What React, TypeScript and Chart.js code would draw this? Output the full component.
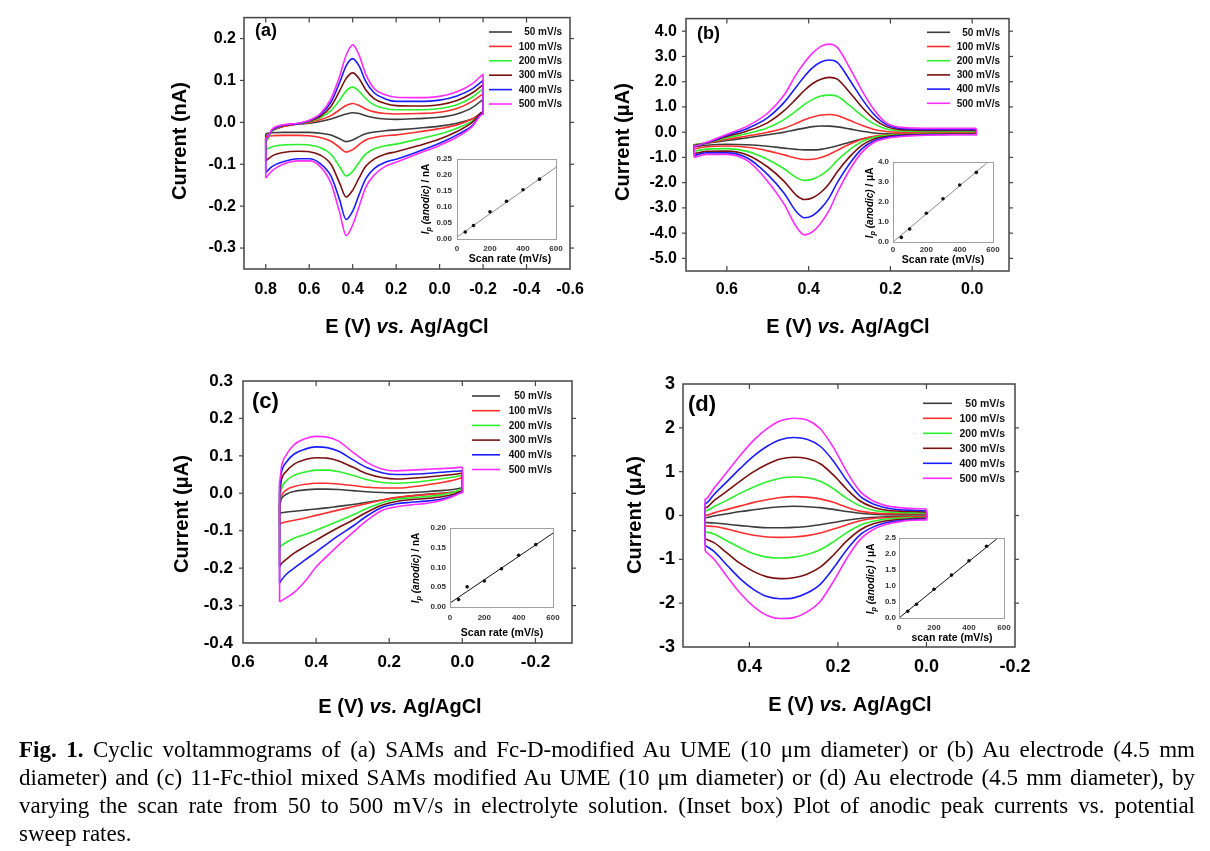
import React, { useEffect, useRef } from 'react';
import { Chart, registerables } from 'chart.js';

Chart.register(...registerables);

const SANS = "'Liberation Sans', Arial, Helvetica, sans-serif";
const SERIF = "'Liberation Serif', 'Times New Roman', Times, serif";

// ---------------- shared ----------------
const scanLabels = ['50 mV/s', '100 mV/s', '200 mV/s', '300 mV/s', '400 mV/s', '500 mV/s'];
const scanColors = ['#3c3c3c', '#ff2e2e', '#2cf02c', '#7a1010', '#1c1cff', '#ff2cff'];
const scanRates = [50, 100, 200, 300, 400, 500];

// ---------------- panel (a) ----------------
const potentialA = [0.8, 0.77, 0.72, 0.65, 0.6, 0.55, 0.5, 0.46, 0.43, 0.4, 0.37, 0.34, 0.3, 0.25, 0.2, 0.1, 0.0, -0.08, -0.15, -0.2];
const anodicA = [
  [-0.035, -0.02, -0.01, -0.004, -0.002, 0.002, 0.008, 0.015, 0.02, 0.023, 0.021, 0.016, 0.011, 0.008, 0.007, 0.009, 0.012, 0.02, 0.035, 0.055],
  [-0.038, -0.02, -0.01, -0.004, 0.0, 0.006, 0.016, 0.03, 0.04, 0.045, 0.04, 0.032, 0.025, 0.021, 0.02, 0.021, 0.024, 0.033, 0.05, 0.068],
  [-0.045, -0.02, -0.008, -0.003, 0.002, 0.011, 0.028, 0.053, 0.075, 0.084, 0.074, 0.057, 0.041, 0.033, 0.03, 0.03, 0.033, 0.042, 0.06, 0.08],
  [-0.04, -0.018, -0.008, -0.003, 0.003, 0.014, 0.038, 0.075, 0.105, 0.118, 0.104, 0.078, 0.056, 0.045, 0.04, 0.039, 0.042, 0.052, 0.07, 0.09],
  [-0.04, -0.018, -0.007, -0.003, 0.004, 0.018, 0.048, 0.095, 0.135, 0.152, 0.134, 0.098, 0.07, 0.056, 0.05, 0.05, 0.053, 0.063, 0.08, 0.1],
  [-0.04, -0.016, -0.006, -0.002, 0.005, 0.02, 0.056, 0.11, 0.16, 0.185, 0.16, 0.115, 0.08, 0.066, 0.06, 0.059, 0.062, 0.073, 0.092, 0.115],
];
const cathodicA = [
  [-0.027, -0.025, -0.024, -0.024, -0.024, -0.026, -0.03, -0.039, -0.046, -0.042, -0.034, -0.027, -0.023, -0.02, -0.018, -0.014, -0.009, -0.002, 0.008, 0.02],
  [-0.035, -0.032, -0.031, -0.031, -0.032, -0.036, -0.045, -0.06, -0.071, -0.065, -0.053, -0.042, -0.036, -0.032, -0.03, -0.023, -0.015, -0.006, 0.008, 0.022],
  [-0.065, -0.058, -0.054, -0.053, -0.054, -0.06, -0.076, -0.106, -0.128, -0.117, -0.095, -0.076, -0.063, -0.056, -0.052, -0.04, -0.028, -0.014, 0.003, 0.022],
  [-0.092, -0.08, -0.072, -0.069, -0.07, -0.078, -0.1, -0.145, -0.178, -0.162, -0.132, -0.105, -0.087, -0.076, -0.07, -0.056, -0.04, -0.022, 0.0, 0.025],
  [-0.12, -0.105, -0.094, -0.087, -0.087, -0.098, -0.128, -0.185, -0.232, -0.212, -0.172, -0.135, -0.11, -0.095, -0.088, -0.07, -0.05, -0.03, -0.008, 0.022],
  [-0.133, -0.115, -0.1, -0.092, -0.092, -0.105, -0.145, -0.215, -0.27, -0.245, -0.2, -0.155, -0.125, -0.105, -0.095, -0.075, -0.055, -0.035, -0.01, 0.02],
];
const xTicksA = [0.8, 0.6, 0.4, 0.2, 0.0, -0.2, -0.4, -0.6];
const yTicksA = [0.2, 0.1, 0.0, -0.1, -0.2, -0.3];

// ---------------- panel (b) ----------------
const potentialB = [0.68, 0.65, 0.6, 0.55, 0.5, 0.46, 0.43, 0.41, 0.39, 0.37, 0.35, 0.33, 0.3, 0.27, 0.24, 0.21, 0.18, 0.14, 0.1, 0.05, -0.01];
const anodicB = [
  [-0.5, -0.44, -0.33, -0.22, -0.1, 0.0, 0.1, 0.16, 0.22, 0.245, 0.24, 0.21, 0.13, 0.04, -0.03, -0.06, -0.07, -0.07, -0.07, -0.07, -0.07],
  [-0.5, -0.43, -0.28, -0.15, 0.0, 0.16, 0.35, 0.49, 0.6, 0.68, 0.7, 0.66, 0.47, 0.27, 0.11, 0.03, 0.0, -0.01, -0.01, -0.01, -0.01],
  [-0.5, -0.42, -0.22, -0.05, 0.18, 0.5, 0.85, 1.1, 1.3, 1.43, 1.47, 1.42, 1.06, 0.66, 0.33, 0.13, 0.06, 0.04, 0.03, 0.03, 0.03],
  [-0.52, -0.42, -0.17, 0.05, 0.38, 0.85, 1.33, 1.66, 1.93, 2.1, 2.17, 2.1, 1.58, 1.0, 0.52, 0.22, 0.11, 0.08, 0.07, 0.07, 0.07],
  [-0.55, -0.42, -0.12, 0.15, 0.58, 1.18, 1.8, 2.22, 2.56, 2.78, 2.86, 2.77, 2.08, 1.33, 0.7, 0.3, 0.16, 0.12, 0.11, 0.11, 0.11],
  [-0.55, -0.4, -0.08, 0.24, 0.76, 1.47, 2.3, 2.76, 3.14, 3.4, 3.49, 3.36, 2.56, 1.66, 0.89, 0.37, 0.2, 0.16, 0.15, 0.15, 0.15],
];
const cathodicB = [
  [-0.58, -0.52, -0.48, -0.5, -0.56, -0.63, -0.68, -0.7, -0.7, -0.68, -0.62, -0.54, -0.4, -0.27, -0.18, -0.13, -0.1, -0.08, -0.07, -0.06, -0.05],
  [-0.65, -0.58, -0.55, -0.6, -0.74, -0.9, -1.03, -1.08, -1.07, -1.0, -0.88, -0.72, -0.48, -0.28, -0.16, -0.11, -0.08, -0.07, -0.06, -0.05, -0.05],
  [-0.75, -0.67, -0.65, -0.76, -1.08, -1.45, -1.8, -1.91, -1.86, -1.7, -1.46, -1.12, -0.7, -0.38, -0.2, -0.13, -0.1, -0.08, -0.07, -0.06, -0.06],
  [-0.85, -0.76, -0.75, -0.9, -1.38, -1.95, -2.5, -2.67, -2.6, -2.38, -2.04, -1.57, -0.98, -0.52, -0.27, -0.17, -0.12, -0.1, -0.08, -0.07, -0.07],
  [-0.92, -0.82, -0.82, -1.02, -1.68, -2.42, -3.15, -3.39, -3.3, -3.02, -2.6, -2.0, -1.25, -0.66, -0.34, -0.21, -0.15, -0.12, -0.1, -0.09, -0.09],
  [-1.0, -0.88, -0.88, -1.13, -1.95, -2.85, -3.75, -4.07, -3.94, -3.6, -3.1, -2.4, -1.5, -0.8, -0.4, -0.25, -0.18, -0.14, -0.12, -0.1, -0.1],
];
const xTicksB = [0.6, 0.4, 0.2, 0.0];
const yTicksB = [4, 3, 2, 1, 0, -1, -2, -3, -4, -5];

// ---------------- panel (c) ----------------
const potentialC = [0.5, 0.495, 0.48, 0.46, 0.43, 0.4, 0.37, 0.34, 0.3, 0.26, 0.22, 0.18, 0.14, 0.1, 0.06, 0.02, 0.0];
const anodicC = [
  [-0.03, -0.015, -0.002, 0.005, 0.009, 0.011, 0.011, 0.01, 0.007, 0.004, 0.002, 0.001, 0.002, 0.004, 0.007, 0.011, 0.015],
  [-0.03, -0.008, 0.01, 0.018, 0.024, 0.027, 0.027, 0.025, 0.021, 0.016, 0.014, 0.014, 0.017, 0.022, 0.028, 0.036, 0.042],
  [-0.02, 0.01, 0.035, 0.048, 0.057, 0.062, 0.062, 0.058, 0.048, 0.036, 0.029, 0.027, 0.029, 0.033, 0.038, 0.044, 0.048],
  [0.0, 0.035, 0.06, 0.078, 0.09, 0.095, 0.094, 0.087, 0.07, 0.052, 0.042, 0.038, 0.04, 0.043, 0.047, 0.051, 0.054],
  [0.02, 0.055, 0.085, 0.105, 0.118, 0.124, 0.122, 0.113, 0.09, 0.068, 0.055, 0.05, 0.051, 0.053, 0.056, 0.059, 0.06],
  [0.03, 0.07, 0.105, 0.13, 0.146, 0.152, 0.15, 0.14, 0.11, 0.082, 0.065, 0.06, 0.062, 0.064, 0.066, 0.068, 0.07],
];
const cathodicC = [
  [-0.053, -0.052, -0.05, -0.048, -0.045, -0.042, -0.039, -0.035, -0.03, -0.024, -0.018, -0.012, -0.007, -0.003, 0.0, 0.003, 0.005],
  [-0.083, -0.08, -0.076, -0.072, -0.066, -0.059, -0.052, -0.045, -0.036, -0.027, -0.018, -0.011, -0.007, -0.004, -0.001, 0.003, 0.005],
  [-0.145, -0.14, -0.13, -0.12, -0.11, -0.099, -0.087, -0.075, -0.058, -0.04, -0.025, -0.016, -0.012, -0.009, -0.005, 0.004, 0.012],
  [-0.195, -0.188, -0.175, -0.16, -0.142, -0.125, -0.108, -0.092, -0.072, -0.05, -0.032, -0.022, -0.017, -0.014, -0.01, -0.002, 0.005],
  [-0.24, -0.232, -0.215, -0.2, -0.178, -0.157, -0.135, -0.114, -0.088, -0.06, -0.038, -0.028, -0.024, -0.021, -0.016, -0.005, 0.003],
  [-0.29, -0.287, -0.278, -0.265, -0.235, -0.197, -0.168, -0.14, -0.105, -0.072, -0.046, -0.036, -0.031, -0.027, -0.02, -0.006, 0.002],
];
const xTicksC = [0.6, 0.4, 0.2, 0.0, -0.2];
const yTicksC = [0.3, 0.2, 0.1, 0.0, -0.1, -0.2, -0.3, -0.4];

// ---------------- panel (d) ----------------
const potentialD = [0.5, 0.48, 0.45, 0.42, 0.39, 0.36, 0.33, 0.3, 0.27, 0.24, 0.21, 0.18, 0.15, 0.12, 0.09, 0.06, 0.03, 0.0];
const anodicD = [
  [-0.05, -0.01, 0.04, 0.09, 0.13, 0.17, 0.2, 0.21, 0.2, 0.18, 0.14, 0.09, 0.05, 0.03, 0.02, 0.02, 0.02, 0.02],
  [0.0, 0.06, 0.14, 0.22, 0.3, 0.36, 0.41, 0.43, 0.42, 0.38, 0.3, 0.19, 0.1, 0.06, 0.04, 0.04, 0.04, 0.04],
  [0.1, 0.2, 0.35, 0.51, 0.65, 0.77, 0.85, 0.88, 0.86, 0.78, 0.61, 0.39, 0.22, 0.12, 0.08, 0.07, 0.06, 0.06],
  [0.17, 0.34, 0.56, 0.79, 1.0, 1.17, 1.29, 1.33, 1.3, 1.18, 0.92, 0.6, 0.33, 0.19, 0.12, 0.1, 0.09, 0.08],
  [0.27, 0.48, 0.78, 1.08, 1.36, 1.58, 1.73, 1.78, 1.74, 1.58, 1.24, 0.8, 0.44, 0.26, 0.17, 0.13, 0.12, 0.11],
  [0.37, 0.62, 1.0, 1.38, 1.72, 1.98, 2.16, 2.22, 2.18, 1.98, 1.55, 1.0, 0.55, 0.33, 0.22, 0.18, 0.16, 0.15],
];
const cathodicD = [
  [-0.16, -0.17, -0.2, -0.23, -0.26, -0.28, -0.28, -0.27, -0.25, -0.21, -0.16, -0.11, -0.07, -0.04, -0.03, -0.02, -0.02, -0.02],
  [-0.24, -0.25, -0.31, -0.39, -0.45, -0.49, -0.5, -0.49, -0.46, -0.4, -0.31, -0.21, -0.12, -0.07, -0.05, -0.04, -0.03, -0.03],
  [-0.37, -0.42, -0.58, -0.74, -0.87, -0.95, -0.97, -0.95, -0.89, -0.78, -0.6, -0.39, -0.22, -0.13, -0.08, -0.06, -0.05, -0.05],
  [-0.53, -0.62, -0.86, -1.1, -1.28, -1.4, -1.44, -1.42, -1.34, -1.18, -0.9, -0.58, -0.33, -0.19, -0.12, -0.09, -0.07, -0.06],
  [-0.68, -0.82, -1.14, -1.45, -1.69, -1.85, -1.9, -1.88, -1.77, -1.57, -1.2, -0.78, -0.44, -0.26, -0.16, -0.12, -0.09, -0.08],
  [-0.81, -1.0, -1.4, -1.78, -2.08, -2.28, -2.35, -2.33, -2.2, -1.96, -1.5, -0.98, -0.55, -0.32, -0.2, -0.14, -0.11, -0.1],
];
const xTicksD = [0.4, 0.2, 0.0, -0.2];
const yTicksD = [3, 2, 1, 0, -1, -2, -3];

// ---------------- insets (anodic peak current vs scan rate) ----------------
const ipA = [0.022, 0.042, 0.085, 0.118, 0.154, 0.187];
const fitXA = [0, 600];
const fitYA = [0.006, 0.224];
const ipB = [0.23, 0.65, 1.44, 2.16, 2.85, 3.48];
const fitXB = [0, 570];
const fitYB = [0.0, 4.0];
const ipC = [0.019, 0.051, 0.066, 0.097, 0.131, 0.158];
const fitXC = [0, 600];
const fitYC = [0.01, 0.187];
const ipD = [0.21, 0.43, 0.9, 1.34, 1.79, 2.24];
const fitXD = [0, 565];
const fitYD = [0.0, 2.5];
const insetXTicks = [0, 200, 400, 600];
const insetYTicksA = [0, 0.05, 0.1, 0.15, 0.2, 0.25];
const insetYTicksB = [0, 1, 2, 3, 4];
const insetYTicksC = [0, 0.05, 0.1, 0.15, 0.2];
const insetYTicksD = [0, 0.5, 1, 1.5, 2, 2.5];

const captionLines = [
  ' Cyclic voltammograms of (a) SAMs and Fc-D-modified Au UME (10 μm diameter) or (b) Au electrode (4.5 mm',
  'diameter) and (c) 11-Fc-thiol mixed SAMs modified Au UME (10 μm diameter) or (d) Au electrode (4.5 mm diameter), by',
  'varying the scan rate from 50 to 500 mV/s in electrolyte solution. (Inset box) Plot of anodic peak currents vs. potential',
  'sweep rates.',
];

// ---------------- helpers ----------------
type Part = { text: string; font: string; dy?: number };

function richText(ctx: CanvasRenderingContext2D, parts: Part[], cx: number, cy: number, angle: number) {
  ctx.save();
  ctx.translate(cx, cy);
  ctx.rotate(angle);
  ctx.textBaseline = 'middle';
  ctx.textAlign = 'left';
  ctx.fillStyle = '#000';
  let total = 0;
  parts.forEach((p) => {
    ctx.font = p.font;
    total += ctx.measureText(p.text).width;
  });
  let x = -total / 2;
  parts.forEach((p) => {
    ctx.font = p.font;
    ctx.fillText(p.text, x, p.dy || 0);
    x += ctx.measureText(p.text).width;
  });
  ctx.restore();
}

function seg(ctx: CanvasRenderingContext2D, x1: number, y1: number, x2: number, y2: number) {
  ctx.beginPath();
  ctx.moveTo(x1, y1);
  ctx.lineTo(x2, y2);
  ctx.stroke();
}

const W = 1210;
const H = 851;

type MainSpec = {
  id: string;
  E: number[];
  anodic: number[][];
  cathodic: number[][];
  xMin: number; xMax: number; yMin: number; yMax: number;
  xTicks: number[]; yTicks: number[]; yDec: number;
  area: { l: number; t: number; r: number; b: number };
  tickFont: number; xPad: number; yPad: number;
  yTitle: string; yTitlePos: [number, number]; xTitlePos: [number, number]; titleFont: number;
  label: string; labelPos: [number, number]; labelFont: number;
  legend: { x1: number; x2: number; tr: number; y0: number; dy: number; font: number };
};

const panelA: MainSpec = {
  id: 'a', E: potentialA, anodic: anodicA, cathodic: cathodicA,
  xMin: -0.6, xMax: 0.9, yMin: -0.35, yMax: 0.25, xTicks: xTicksA, yTicks: yTicksA, yDec: 1,
  area: { l: 244, t: 13, r: 570, b: 269 }, tickFont: 16, xPad: 11, yPad: 8,
  yTitle: 'Current (nA)', yTitlePos: [180, 141], xTitlePos: [407, 327], titleFont: 20,
  label: '(a)', labelPos: [255, 31], labelFont: 18,
  legend: { x1: 489, x2: 512, tr: 562, y0: 32, dy: 14.4, font: 10 },
};
const panelB: MainSpec = {
  id: 'b', E: potentialB, anodic: anodicB, cathodic: cathodicB,
  xMin: -0.09, xMax: 0.7, yMin: -5.5, yMax: 4.5, xTicks: xTicksB, yTicks: yTicksB, yDec: 1,
  area: { l: 686, t: 13, r: 1009, b: 271 }, tickFont: 16, xPad: 9, yPad: 9,
  yTitle: 'Current (μA)', yTitlePos: [623, 142], xTitlePos: [848, 327], titleFont: 20,
  label: '(b)', labelPos: [697, 34], labelFont: 18,
  legend: { x1: 927, x2: 950, tr: 1000, y0: 32.3, dy: 14.2, font: 10 },
};
const panelC: MainSpec = {
  id: 'c', E: potentialC, anodic: anodicC, cathodic: cathodicC,
  xMin: -0.3, xMax: 0.6, yMin: -0.4, yMax: 0.3, xTicks: xTicksC, yTicks: yTicksC, yDec: 1,
  area: { l: 243, t: 381, r: 572, b: 643 }, tickFont: 17, xPad: 9, yPad: 10,
  yTitle: 'Current (μA)', yTitlePos: [182, 514], xTitlePos: [400, 707], titleFont: 20,
  label: '(c)', labelPos: [252, 402], labelFont: 22,
  legend: { x1: 472, x2: 500, tr: 552, y0: 396, dy: 14.7, font: 10 },
};
const panelD: MainSpec = {
  id: 'd', E: potentialD, anodic: anodicD, cathodic: cathodicD,
  xMin: -0.2, xMax: 0.55, yMin: -3, yMax: 3, xTicks: xTicksD, yTicks: yTicksD, yDec: 0,
  area: { l: 683, t: 384, r: 1015, b: 647 }, tickFont: 18, xPad: 9, yPad: 8,
  yTitle: 'Current (μA)', yTitlePos: [635, 515], xTitlePos: [850, 705], titleFont: 20,
  label: '(d)', labelPos: [688, 405], labelFont: 22,
  legend: { x1: 923, x2: 952, tr: 1005, y0: 403.3, dy: 15, font: 10.5 },
};

type InsetSpec = {
  id: string;
  ip: number[]; fitX: number[]; fitY: number[];
  yMax: number; yTicks: number[]; yDec: number;
  area: { l: number; t: number; r: number; b: number };
  xPad: number; yPad: number;
  lineColor: string;
  xTitle: string; xTitlePos: [number, number]; yTitlePos: [number, number]; unit: string;
};

const insetA: InsetSpec = {
  id: 'ia', ip: ipA, fitX: fitXA, fitY: fitYA, yMax: 0.25, yTicks: insetYTicksA, yDec: 2,
  area: { l: 457, t: 159, r: 556, b: 239 }, xPad: 5, yPad: 5, lineColor: '#8a8a8a',
  xTitle: 'Scan rate (mV/s)', xTitlePos: [510, 259], yTitlePos: [426, 199], unit: 'nA',
};
const insetB: InsetSpec = {
  id: 'ib', ip: ipB, fitX: fitXB, fitY: fitYB, yMax: 4, yTicks: insetYTicksB, yDec: 1,
  area: { l: 893, t: 162, r: 993, b: 242 }, xPad: 3, yPad: 4, lineColor: '#8a8a8a',
  xTitle: 'Scan rate (mV/s)', xTitlePos: [943, 260], yTitlePos: [870, 203], unit: 'μA',
};
const insetC: InsetSpec = {
  id: 'ic', ip: ipC, fitX: fitXC, fitY: fitYC, yMax: 0.2, yTicks: insetYTicksC, yDec: 2,
  area: { l: 450, t: 528, r: 553, b: 607 }, xPad: 6, yPad: 4, lineColor: '#111',
  xTitle: 'Scan rate (mV/s)', xTitlePos: [502, 633], yTitlePos: [416, 568], unit: 'nA',
};
const insetD: InsetSpec = {
  id: 'id', ip: ipD, fitX: fitXD, fitY: fitYD, yMax: 2.5, yTicks: insetYTicksD, yDec: 1,
  area: { l: 899, t: 538, r: 1004, b: 618 }, xPad: 5, yPad: 3, lineColor: '#111',
  xTitle: 'scan rate (mV/s)', xTitlePos: [952, 638], yTitlePos: [871, 579], unit: 'μA',
};

const Y_AXIS_W = 60;
const X_AXIS_H = 40;

function makeMainChart(canvas: HTMLCanvasElement, p: MainSpec) {
  const datasets: any[] = [];
  const last = p.E.length - 1;
  for (let i = p.anodic.length - 1; i >= 0; i--) {
    const up = [{ x: p.E[0], y: p.cathodic[i][0] }, ...p.E.map((e, j) => ({ x: e, y: p.anodic[i][j] }))];
    const lo = [...p.E.map((e, j) => ({ x: e, y: p.cathodic[i][j] })), { x: p.E[last], y: p.anodic[i][last] }];
    const common = {
      borderColor: scanColors[i], borderWidth: 1.6, pointRadius: 0, fill: false,
      cubicInterpolationMode: 'monotone',
    };
    datasets.push({ label: scanLabels[i] + ' anodic', data: up, ...common });
    datasets.push({ label: scanLabels[i] + ' cathodic', data: lo, ...common });
  }
  const a = p.area;
  const tickFont = { family: SANS, size: p.tickFont, weight: 'bold' as const };
  const decor = {
    id: 'decor-' + p.id,
    afterDraw(chart: any) {
      const ctx: CanvasRenderingContext2D = chart.ctx;
      const ca = chart.chartArea;
      const xs = chart.scales.x;
      const ys = chart.scales.y;
      ctx.save();
      ctx.strokeStyle = '#444';
      ctx.lineWidth = 1.5;
      ctx.strokeRect(ca.left, ca.top, ca.right - ca.left, ca.bottom - ca.top);
      ctx.lineWidth = 1.2;
      ys.ticks.forEach((t: any) => {
        const y = ys.getPixelForValue(t.value);
        if (y > ca.top + 1 && y < ca.bottom - 1) {
          seg(ctx, ca.left - 4, y, ca.left, y);
          seg(ctx, ca.right, y, ca.right + 4, y);
        }
      });
      xs.ticks.forEach((t: any) => {
        const x = xs.getPixelForValue(t.value);
        if (x > ca.left + 1 && x < ca.right - 1) {
          seg(ctx, x, ca.bottom, x, ca.bottom - 5);
          seg(ctx, x, ca.top, x, ca.top + 5);
        }
      });
      // legend
      const lg = p.legend;
      ctx.font = `bold ${lg.font}px ${SANS}`;
      ctx.textAlign = 'right';
      ctx.textBaseline = 'middle';
      scanLabels.forEach((lab, i) => {
        const y = lg.y0 + i * lg.dy;
        ctx.strokeStyle = scanColors[i];
        ctx.lineWidth = 1.6;
        seg(ctx, lg.x1, y, lg.x2, y);
        ctx.fillStyle = '#111';
        ctx.fillText(lab, lg.tr, y + 0.5);
      });
      // panel label
      ctx.font = `bold ${p.labelFont}px ${SANS}`;
      ctx.textAlign = 'left';
      ctx.fillStyle = '#000';
      ctx.fillText(p.label, p.labelPos[0], p.labelPos[1]);
      ctx.restore();
      // axis titles
      const tf = `bold ${p.titleFont}px ${SANS}`;
      const tfi = `italic bold ${p.titleFont}px ${SANS}`;
      richText(ctx, [{ text: p.yTitle, font: tf }], p.yTitlePos[0], p.yTitlePos[1], -Math.PI / 2);
      richText(ctx, [
        { text: 'E (V) ', font: tf },
        { text: 'vs.', font: tfi },
        { text: ' Ag/AgCl', font: tf },
      ], p.xTitlePos[0], p.xTitlePos[1], 0);
    },
  };
  return new Chart(canvas, {
    type: 'line',
    data: { datasets },
    options: {
      animation: false,
      responsive: false,
      events: [],
      layout: { padding: { left: a.l - Y_AXIS_W, top: a.t, right: W - a.r, bottom: H - a.b - X_AXIS_H } },
      plugins: { legend: { display: false }, tooltip: { enabled: false } },
      scales: {
        x: {
          type: 'linear', reverse: true, min: p.xMin, max: p.xMax,
          afterBuildTicks: (s: any) => { s.ticks = p.xTicks.map((v) => ({ value: v })); },
          afterFit: (s: any) => { s.height = X_AXIS_H; },
          grid: { display: false, drawTicks: false }, border: { display: false },
          ticks: {
            padding: p.xPad, font: tickFont, color: '#000', autoSkip: false, maxRotation: 0, minRotation: 0,
            callback: (v: any) => Number(v).toFixed(1),
          },
        },
        y: {
          type: 'linear', min: p.yMin, max: p.yMax,
          afterBuildTicks: (s: any) => { s.ticks = p.yTicks.map((v) => ({ value: v })); },
          afterFit: (s: any) => { s.width = Y_AXIS_W; },
          grid: { display: false, drawTicks: false }, border: { display: false },
          ticks: {
            padding: p.yPad, font: tickFont, color: '#000', autoSkip: false,
            callback: (v: any) => Number(v).toFixed(p.yDec),
          },
        },
      },
    } as any,
    plugins: [decor],
  } as any);
}

const INSET_Y_W = 30;
const INSET_X_H = 24;

function makeInsetChart(canvas: HTMLCanvasElement, p: InsetSpec) {
  const pts = scanRates.map((s, i) => ({ x: s, y: p.ip[i] }));
  const fit = p.fitX.map((x, i) => ({ x, y: p.fitY[i] }));
  const a = p.area;
  const tickFont = { family: SANS, size: 8, weight: 'bold' as const };
  const decor = {
    id: 'decor-' + p.id,
    afterDraw(chart: any) {
      const ctx: CanvasRenderingContext2D = chart.ctx;
      const ca = chart.chartArea;
      ctx.save();
      ctx.strokeStyle = '#a0a0a0';
      ctx.lineWidth = 1;
      ctx.strokeRect(ca.left + 0.5, ca.top + 0.5, ca.right - ca.left, ca.bottom - ca.top);
      ctx.restore();
      richText(ctx, [{ text: p.xTitle, font: `bold 10.5px ${SANS}` }], p.xTitlePos[0], p.xTitlePos[1], 0);
      richText(ctx, [
        { text: 'I', font: `italic bold 10px ${SANS}` },
        { text: 'p', font: `italic bold 7.5px ${SANS}`, dy: 3 },
        { text: ' (anodic)', font: `italic bold 10px ${SANS}` },
        { text: ' / ' + p.unit, font: `bold 10px ${SANS}` },
      ], p.yTitlePos[0], p.yTitlePos[1], -Math.PI / 2);
    },
  };
  return new Chart(canvas, {
    type: 'scatter',
    data: {
      datasets: [
        { label: 'Ip', data: pts, pointRadius: 1.8, pointBackgroundColor: '#111', pointBorderWidth: 0, showLine: false },
        { label: 'fit', data: fit, showLine: true, pointRadius: 0, borderColor: p.lineColor, borderWidth: 1 },
      ],
    },
    options: {
      animation: false,
      responsive: false,
      events: [],
      layout: { padding: { left: a.l - INSET_Y_W, top: a.t, right: W - a.r, bottom: H - a.b - INSET_X_H } },
      plugins: { legend: { display: false }, tooltip: { enabled: false } },
      scales: {
        x: {
          type: 'linear', min: 0, max: 600,
          afterBuildTicks: (s: any) => { s.ticks = insetXTicks.map((v) => ({ value: v })); },
          afterFit: (s: any) => { s.height = INSET_X_H; },
          grid: { display: false, drawTicks: false }, border: { display: false },
          ticks: { padding: p.xPad, font: tickFont, color: '#333', autoSkip: false, maxRotation: 0, callback: (v: any) => String(v) },
        },
        y: {
          type: 'linear', min: 0, max: p.yMax,
          afterBuildTicks: (s: any) => { s.ticks = p.yTicks.map((v) => ({ value: v })); },
          afterFit: (s: any) => { s.width = INSET_Y_W; },
          grid: { display: false, drawTicks: false }, border: { display: false },
          ticks: { padding: p.yPad, font: tickFont, color: '#333', autoSkip: false, callback: (v: any) => Number(v).toFixed(p.yDec) },
        },
      },
    } as any,
    plugins: [decor],
  } as any);
}

const builders: ((c: HTMLCanvasElement) => Chart)[] = [
  (c) => makeMainChart(c, panelA),
  (c) => makeMainChart(c, panelB),
  (c) => makeMainChart(c, panelC),
  (c) => makeMainChart(c, panelD),
  (c) => makeInsetChart(c, insetA),
  (c) => makeInsetChart(c, insetB),
  (c) => makeInsetChart(c, insetC),
  (c) => makeInsetChart(c, insetD),
];

function Layer({ build }: { build: (c: HTMLCanvasElement) => Chart }) {
  const ref = useRef<HTMLCanvasElement>(null);
  useEffect(() => {
    if (!ref.current) return;
    const chart = build(ref.current);
    return () => chart.destroy();
  }, [build]);
  return (
    <canvas
      ref={ref}
      width={W}
      height={H}
      style={{ position: 'absolute', left: 0, top: 0, width: W, height: H }}
    />
  );
}

export default function App() {
  return (
    <div style={{ position: 'absolute', left: 0, top: 0, width: W, height: H, background: '#fff', overflow: 'hidden' }}>
      {builders.map((b, i) => (
        <Layer key={i} build={b} />
      ))}
      <div
        style={{
          position: 'absolute', left: 19, top: 736, width: 1176,
          fontFamily: SERIF, fontSize: 23, lineHeight: '28px', color: '#000',
        }}
      >
        {captionLines.map((ln, i) => (
          <div key={i} style={{ textAlign: 'justify', textAlignLast: i < captionLines.length - 1 ? 'justify' : 'left' } as any}>
            {i === 0 ? (
              <>
                <b>Fig. 1.</b>
                {ln}
              </>
            ) : (
              ln
            )}
          </div>
        ))}
      </div>
    </div>
  );
}
